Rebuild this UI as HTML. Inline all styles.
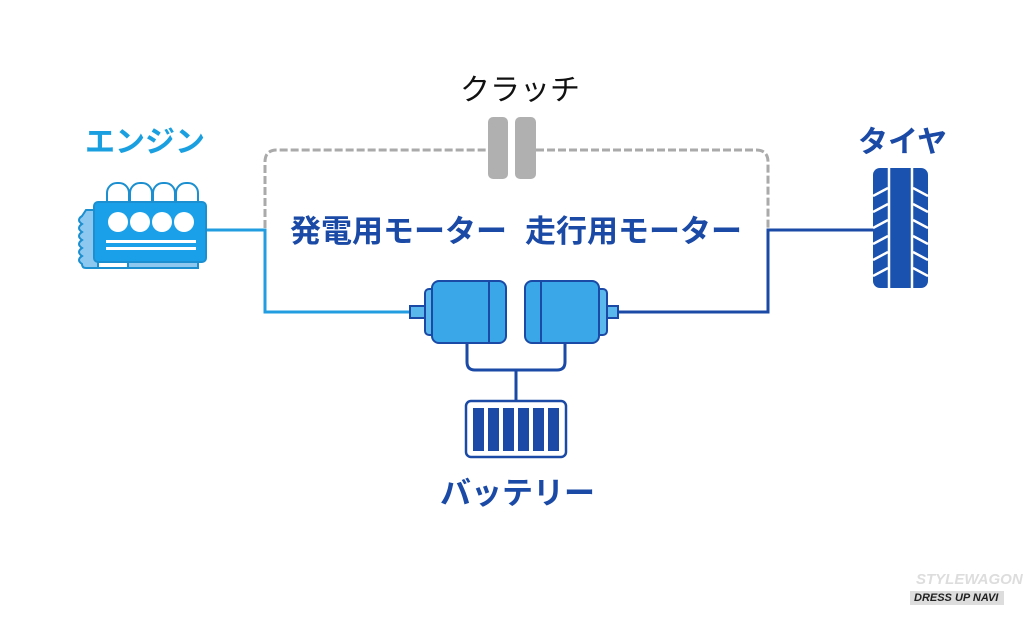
<!DOCTYPE html>
<html><head><meta charset="utf-8"><style>
body{margin:0;background:#fff;}
.t{position:absolute;font-family:"Liberation Sans","Noto Sans CJK JP",sans-serif;font-weight:bold;white-space:nowrap;line-height:1;}
</style></head><body>
<div style="position:relative;width:1024px;height:620px;overflow:hidden;background:#fff">
<svg width="1024" height="620" style="position:absolute;left:0;top:0">
<path d="M265 228 V162 Q265 150 277 150 H488 M536 150 H756 Q768 150 768 162 V228" fill="none" stroke="#aaa" stroke-width="3" stroke-dasharray="8 3"/>
<rect x="488" y="117" width="20" height="62" rx="5" fill="#b0b0b0"/>
<rect x="515" y="117" width="21" height="62" rx="5" fill="#b0b0b0"/>
<path d="M205 230 H265 V312 H412" fill="none" stroke="#229ee0" stroke-width="3"/>
<path d="M618 312 H768 V230 H875" fill="none" stroke="#1a4aa6" stroke-width="3"/>
<g stroke="#1b8fd0" stroke-width="2">
<rect x="107" y="183" width="22" height="28" rx="10" fill="#fff"/>
<rect x="130" y="183" width="22" height="28" rx="10" fill="#fff"/>
<rect x="153" y="183" width="22" height="28" rx="10" fill="#fff"/>
<rect x="176" y="183" width="22" height="28" rx="10" fill="#fff"/>
<path d="M86 210 h12 v58 h30 v-6 h70 v6 h-112 q-4 0 -4 -4 q-6 -4 0 -8 q-6 -4 0 -8 q-6 -4 0 -8 q-6 -4 0 -8 q-6 -4 0 -8 q-6 -4 0 -8 z" fill="#8cc8f0"/>
<rect x="94" y="202" width="112" height="60" rx="4" fill="#1aa0e8"/>
</g>
<g fill="#fff"><circle cx="118" cy="222" r="10"/><circle cx="140" cy="222" r="10"/><circle cx="162" cy="222" r="10"/><circle cx="184" cy="222" r="10"/>
<rect x="106" y="240" width="90" height="3"/><rect x="106" y="247" width="90" height="3"/></g>
<g stroke="#1a4aa6" stroke-width="2" fill="#3aa8e8">
<rect x="410" y="306" width="18" height="12" fill="#5bb8ec"/>
<rect x="425" y="289" width="12" height="46" rx="4" fill="#5bb8ec"/>
<rect x="432" y="281" width="74" height="62" rx="7"/>
<line x1="489" y1="281" x2="489" y2="343"/>
<rect x="600" y="306" width="18" height="12" fill="#5bb8ec"/>
<rect x="595" y="289" width="12" height="46" rx="4" fill="#5bb8ec"/>
<rect x="525" y="281" width="74" height="62" rx="7"/>
<line x1="541" y1="281" x2="541" y2="343"/>
</g>
<path d="M467 343 V362 Q467 370 475 370 H557 Q565 370 565 362 V343 M516 370 V400" fill="none" stroke="#1a4aa6" stroke-width="3"/>
<rect x="466" y="401" width="100" height="56" rx="5" fill="#fff" stroke="#1a4aa6" stroke-width="2.5"/>
<g fill="#1a4aa6"><rect x="473" y="408" width="11" height="43"/><rect x="488" y="408" width="11" height="43"/><rect x="503" y="408" width="11" height="43"/><rect x="518" y="408" width="11" height="43"/><rect x="533" y="408" width="11" height="43"/><rect x="548" y="408" width="11" height="43"/></g>
<rect x="873" y="168" width="55" height="120" rx="7" fill="#1a52b0"/>
<g stroke="#fff" stroke-width="2.5"><line x1="889" y1="168" x2="889" y2="288"/><line x1="912" y1="168" x2="912" y2="288"/>
<path d="M873 196 l15 -8 M873 212 l15 -8 M873 228 l15 -8 M873 244 l15 -8 M873 260 l15 -8 M873 276 l15 -8 M928 196 l-15 -8 M928 212 l-15 -8 M928 228 l-15 -8 M928 244 l-15 -8 M928 260 l-15 -8 M928 276 l-15 -8"/></g>
<rect x="910" y="591" width="94" height="14" fill="#ddd"/>
</svg>
<div class="t" style="left:85px;top:128px;font-size:30px;color:#1aa0e0">エンジン</div>
<div class="t" style="left:460px;top:76px;font-size:30px;color:#111;font-weight:normal">クラッチ</div>
<div class="t" style="left:858px;top:128px;font-size:30px;color:#1a4aa6">タイヤ</div>
<div class="t" style="left:290px;top:216px;font-size:31px;color:#1a4aa6">発電用モーター</div>
<div class="t" style="left:525px;top:216px;font-size:31px;color:#1a4aa6">走行用モーター</div>
<div class="t" style="left:440px;top:478px;font-size:31px;color:#1a4aa6">バッテリー</div>
<div class="t" style="left:916px;top:572px;font-size:15px;color:#ddd;font-style:italic">STYLEWAGON</div>
<div class="t" style="left:914px;top:593px;font-size:11px;color:#222;font-style:italic">DRESS UP NAVI</div>
</div>
</body></html>
